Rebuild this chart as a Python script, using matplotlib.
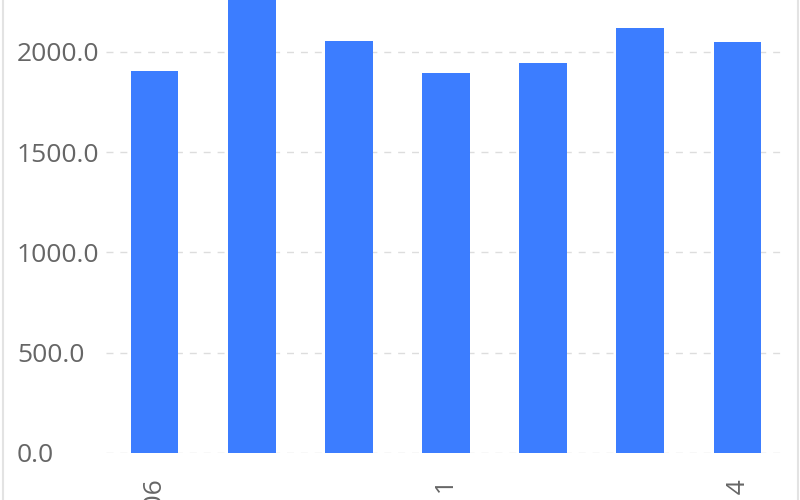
import matplotlib
matplotlib.use("Agg")
import matplotlib.pyplot as plt
from matplotlib.lines import Line2D

categories = ["2021-01-06", "2021-01-07", "2021-01-08", "2021-01-11",
              "2021-01-12", "2021-01-13", "2021-01-14"]
values = [1905, 2350, 2055, 1895, 1945, 2120, 2050]
yticks = [0, 500, 1000, 1500, 2000]
shown_labels = [0, 3, 6]

plt.rcParams['font.family'] = ['Open Sans', 'DejaVu Sans']

fig = plt.figure(figsize=(8, 5), dpi=100)
ax = fig.add_axes([106/800, 47/500, 680/800, 453/500])

x = list(range(len(categories)))
ax.bar(x, values, width=0.49, color="#3C7DFF", zorder=3)

ax.set_xlim(-0.5, len(categories) - 0.5)
ax.set_ylim(0, 2259)
ax.set_yticks(yticks)
ax.set_yticklabels([f"{v:.1f}" for v in yticks], fontsize=19, color="#666666")
for lab in ax.get_yticklabels():
    lab.set_horizontalalignment("left")
ax.tick_params(axis="y", length=0, pad=89*72/100)

ax.set_xticks([x[i] for i in shown_labels])
ax.set_xticklabels([categories[i] for i in shown_labels], rotation=90,
                   fontsize=19, color="#666666", va="top", ha="center")
ax.tick_params(axis="x", length=0, pad=24*72/100)

ax.grid(axis="y", color="#dddddd", linestyle=(0, (5, 5)), linewidth=1, zorder=0)
for s in ax.spines.values():
    s.set_visible(False)

fig.add_artist(Line2D([2.5/800, 2.5/800], [0, 1], color="#e3e3e3", lw=1.5, transform=fig.transFigure))
fig.add_artist(Line2D([797.5/800, 797.5/800], [0, 1], color="#e3e3e3", lw=1.5, transform=fig.transFigure))

fig.savefig("out.png", dpi=100)
